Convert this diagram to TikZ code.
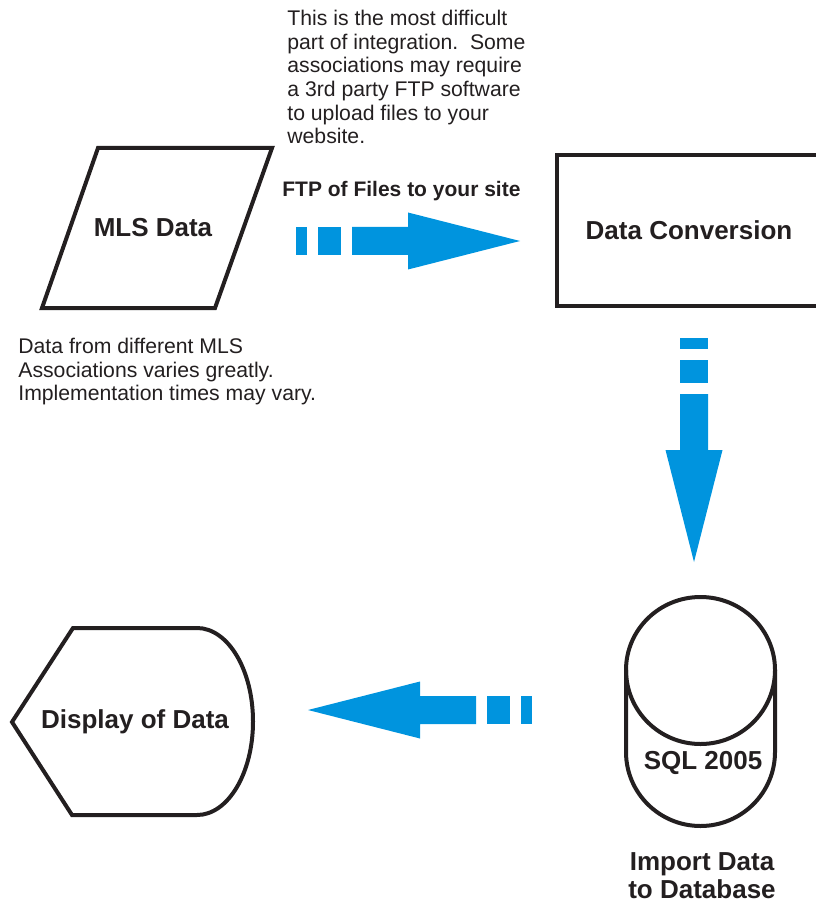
\documentclass[tikz,border=0pt]{standalone}
\usepackage{fontspec}
\setmainfont{Liberation Sans}
\definecolor{flowblue}{RGB}{0,148,222}
\definecolor{ink}{RGB}{35,31,32}

\tikzset{
  shapeline/.style={draw=ink, line width=2pt, line join=miter},
  biglabel/.style={font=\fontsize{13}{14}\selectfont\bfseries, text=ink, inner sep=0pt},
  note/.style={font=\fontsize{10.6}{11.8}\selectfont, text=ink, align=left, inner sep=0pt},
  blockarrow/.pic={
    \fill[flowblue] (0,-14) rectangle (11,14);
    \fill[flowblue] (22,-14) rectangle (45,14);
    \fill[flowblue] (56,-14) -- (112,-14) -- (112,-28.5) -- (224,0)
      -- (112,28.5) -- (112,14) -- (56,14) -- cycle;
  }
}

\begin{document}
\begin{tikzpicture}[x=0.5pt, y=-0.5pt]
\useasboundingbox (0,0) rectangle (815,903);

% MLS Data
\draw[shapeline] (98,148) -- (272,148) -- (215,308) -- (42,308) -- cycle;
\node (mls) [biglabel] at (153,228) {MLS Data};
\node (mlsnote) [note, anchor=north west] at (18,338)
  {Data from different MLS\\Associations varies greatly.\\Implementation times may vary.};

% FTP para o site
\node (ftpnote) [note, anchor=north west] at (287,10)
  {This is the most difficult\\part of integration.\ \ Some\\associations may require\\a 3rd party FTP software\\to upload files to your\\website.};
\node (ftp) [biglabel, font=\fontsize{10.5}{12}\selectfont\bfseries, anchor=base west] at (282,197) {FTP of Files to your site};
\pic at (296,241) {blockarrow};

% Data Conversion
\node (conv) [shapeline, rectangle, minimum width=132pt, minimum height=75.5pt, biglabel] at (689,230.5) {Data Conversion};

% Seta para baixo
\pic[rotate=-90] at (694,338) {blockarrow};

% SQL 2005
\draw[shapeline] (626,752) -- (626,670)
  arc[start angle=180, end angle=0, x radius=37.25pt, y radius=36.5pt]
  -- (775,752)
  arc[start angle=0, end angle=-180, x radius=37.25pt, y radius=37pt] -- cycle;
\draw[shapeline] (626,670) arc[start angle=180, end angle=360, x radius=37.25pt, y radius=37pt];
\node (sql) [biglabel] at (703,763) {SQL 2005};
\node (import) [biglabel, align=center, anchor=north] at (702,852) {Import Data\\to Database};

% Seta para a esquerda
\pic[rotate=180] at (532,710) {blockarrow};

% Display of Data
\draw[shapeline] (12,722) -- (73,628) -- (197,628)
  arc[start angle=90, end angle=-90, x radius=28pt, y radius=46.75pt]
  -- (72,815) -- cycle;
\node (display) [biglabel, anchor=base] at (135,728) {Display of Data};

\end{tikzpicture}
\end{document}
